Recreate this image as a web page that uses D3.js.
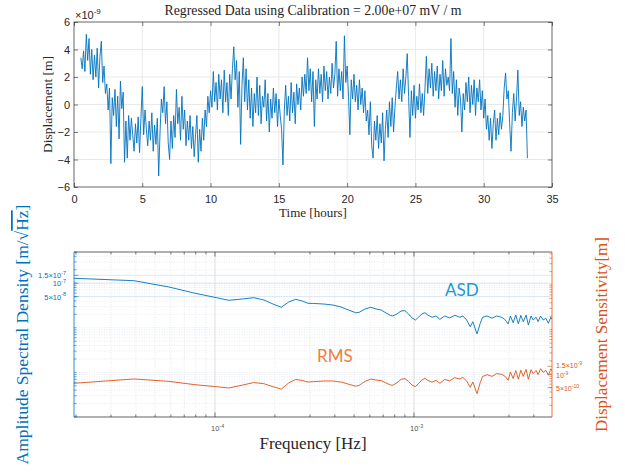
<!DOCTYPE html>
<html>
<head>
<meta charset="utf-8">
<script src="https://cdn.jsdelivr.net/npm/d3@7"></script>
<style>
  body { margin: 0; background: #fff; }
  svg { display: block; }
  .tick text { font-family: "Liberation Sans", Arial, sans-serif; }
  .lbl { font-family: "Liberation Serif", "Times New Roman", serif; fill: #262626; }
</style>
</head>
<body>
<div id="vis"></div>
<script>
// regressed displacement, units of 1e-9 m, one sample every 0.1 h from 0.5 h
var dispStart = 0.5;
var dispStep = 0.1;
var dispValues = [
  3.4, 2.6, 3.9, 2.4, 5.1, 3.2, 4.8, 2.2, 4.0, 1.8,
  3.6, 2.0, 4.1, 1.2, 3.5, 4.6, 1.6, 2.8, 0.8, 1.5,
  -0.4, 1.2, -4.3, 0.5, -0.8, 1.1, -1.6, 0.6, -2.5, 1.7,
  -0.3, 0.9, -4.2, -1.2, -3.9, -0.8, -2.6, -1.0, -2.2, -3.4,
  -1.4, -2.8, -0.9, -3.5, -1.0, 1.3, -2.2, -0.4, -1.8, -3.0,
  -1.2, -2.6, -0.6, -3.4, -1.5, -2.9, -1.0, -5.2, -2.0, 0.4,
  -0.6, 1.3, -1.4, 0.2, -2.8, -4.0, -1.2, -3.2, -0.8, -2.4,
  1.1, -1.4, -0.2, -2.6, 0.6, -1.8, -0.4, -3.0, -1.2, -2.6,
  -0.8, -3.2, -1.6, -3.8, -2.2, -0.8, -4.2, -1.8, -3.4, -1.0,
  -2.6, -0.4, -1.6, 0.6, -0.6, 1.0, -0.2, 2.4, 0.2, 1.6,
  -0.4, 2.2, 0.4, 1.8, -0.6, 2.5, 0.2, 1.6, -0.8, 2.2,
  0.4, 2.6, 4.2, 1.8, 3.2, -0.2, 2.4, -2.9, 1.4, 3.4,
  0.2, 2.6, -0.4, 1.8, -1.0, 1.2, -1.6, 0.8, -0.6, 2.0,
  -0.8, 1.4, -1.4, 0.6, -0.2, 1.8, -1.2, 0.8, -2.0, 0.4,
  -1.0, 1.2, -0.6, 0.8, -1.6, 0.4, -0.8, -1.8, -4.4, -0.4,
  1.4, -0.8, 0.6, -1.2, 1.6, -0.6, 0.9, -1.4, 1.5, 0.0,
  1.2, -0.4, 2.0, 0.6, 2.2, 0.8, 3.4, 1.0, 2.6, 0.2,
  2.4, -1.6, 1.8, 0.4, 2.6, 0.8, 2.2, 0.2, 2.8, 1.0,
  2.4, 0.4, 2.0, 0.8, 3.0, 1.2, 2.2, 4.6, 0.6, 2.6,
  1.0, 2.4, 0.4, 5.0, 1.6, 2.8, 0.6, -2.2, 1.8, 0.4,
  2.2, 0.2, 1.4, -0.4, 1.8, 0.0, 1.2, -0.6, 1.0, -1.2,
  -0.4, -2.2, 0.2, -3.0, -3.9, -1.2, -2.6, -0.8, -3.2, -1.4,
  -2.8, -0.6, -4.1, -1.8, -0.4, -2.4, 0.2, -1.6, 0.5, -2.0,
  -0.2, 1.2, 2.4, 0.4, 1.8, 0.2, 2.6, 0.8, 2.0, 3.7,
  0.6, -2.4, 1.0, -0.8, 1.4, -1.0, 0.6, -0.4, 1.5, -0.6,
  0.8, -0.8, 1.2, 3.5, 0.8, 2.6, 1.2, 3.0, 0.6, 2.4,
  1.0, 2.8, 0.4, 2.2, 1.0, 3.2, 0.6, 2.6, 1.4, 2.0,
  1.0, 4.8, 0.8, 2.4, -0.2, 1.8, -0.8, 1.2, 0.4, -2.0,
  0.8, -0.4, 1.6, 0.2, 2.0, -0.6, 1.4, 0.0, 1.8, -0.8,
  1.2, 0.2, 1.8, -0.4, 1.0, -1.0, 0.4, -1.8, -0.8, -2.6,
  -1.0, -3.2, -1.4, -0.4, -2.6, -1.0, -2.2, -0.6, -1.8, -0.8,
  1.2, 2.3, 0.4, 1.0, -1.4, -3.4, -0.6, 0.8, -1.2, 0.4,
  2.5, -0.8, 0.2, -1.6, -0.2, -1.2, -0.4, -3.9
];
var timeTicks = [0, 5, 10, 15, 20, 25, 30, 35];
var dispTicks = [-6, -4, -2, 0, 2, 4, 6];

// spectrum: frequency bin index (bin width freqRes), ASD in nm/sqrt(Hz), RMS in nm
var freqRes = 1.956e-5;
var binIdx = [1, 2, 3, 4, 5, 6, 7, 8, 9, 10, 11, 12, 13, 14, 15, 16, 18, 20, 22, 24,
  26, 27, 29, 31, 33, 35, 37, 39, 40, 42, 44, 46, 48, 50, 52, 54, 56, 58, 60, 63,
  66, 69, 73, 77, 82, 87, 90, 94, 98, 101, 106, 110, 113, 119, 126, 133, 141, 146, 152, 156,
  161, 166, 171, 176, 181, 187, 192, 198, 203, 210, 215, 221, 228, 235, 242, 249, 252];
var asdValues = [128.7, 113.7, 82.1, 60.3, 49.0, 41.3, 44.2, 47.3, 42.0, 34.1, 28.8, 37.9, 43.5, 39.9, 35.4, 35.1, 34.1, 32.4, 29.2, 25.0,
  21.8, 22.0, 26.4, 28.8, 26.4, 25.0, 21.5, 18.8, 18.4, 20.4, 23.8, 24.2, 20.4, 16.6, 14.95, 17.5, 20.4, 21.8, 19.3, 17.2,
  18.4, 15.5, 18.4, 16.6, 19.0, 17.2, 18.4, 14.95, 10.6, 13.7, 7.3, 12.6, 17.2, 18.4, 16.4, 18.4, 17.2, 15.5, 12.2, 18.4,
  13.0, 19.3, 12.2, 19.0, 13.7, 19.3, 11.5, 18.4, 14.95, 17.2, 13.7, 18.4, 14.95, 16.4, 12.6, 17.2, 15.5];
var rmsValues = [0.627, 0.783, 0.693, 0.587, 0.534, 0.493, 0.569, 0.651, 0.614, 0.525, 0.465, 0.639, 0.764, 0.727, 0.668, 0.684, 0.705, 0.706, 0.667, 0.597,
  0.541, 0.557, 0.692, 0.781, 0.739, 0.720, 0.637, 0.572, 0.567, 0.644, 0.769, 0.799, 0.688, 0.572, 0.525, 0.626, 0.743, 0.809, 0.728, 0.665,
  0.728, 0.627, 0.766, 0.709, 0.838, 0.781, 0.850, 0.706, 0.511, 0.670, 0.366, 0.644, 0.890, 0.978, 0.897, 1.033, 0.995, 0.912, 0.733, 1.119,
  0.803, 1.211, 0.777, 1.228, 0.898, 1.285, 0.776, 1.261, 1.037, 1.214, 0.978, 1.332, 1.099, 1.224, 0.955, 1.322, 1.198];
var freqTicks = [1e-4, 1e-3];
var freqTickLabels = [['10', '-4'], ['10', '-3']];
var asdTicks = [5e-8, 1e-7, 1.5e-7];
var asdTickLabels = [['5\u00d710', '-8'], ['10', '-7'], ['1.5\u00d710', '-7']];
var rmsTicks = [5e-10, 1e-9, 1.5e-9];
var rmsTickLabels = [['5\u00d710', '-10'], ['10', '-9'], ['1.5\u00d710', '-9']];

var width = 625;
var height = 474;
var axisColor = '#262626';
var blue = '#0072BD';
var orange = '#D95319';

var svg = d3.select('#vis').append('svg')
  .attr('width', width)
  .attr('height', height);

////////////////////////////
// top panel: time series
////////////////////////////
var top1 = { left: 74, right: 552, top: 22, bottom: 187 };
var xTime = d3.scaleLinear().domain([0, 35]).range([top1.left, top1.right]);
var yDisp = d3.scaleLinear().domain([-6, 6]).range([top1.bottom, top1.top]);

var g1 = svg.append('g');

// grid
g1.selectAll('.vgrid').data(timeTicks.slice(1, -1)).enter().append('line')
  .attr('x1', function (d) { return xTime(d); }).attr('x2', function (d) { return xTime(d); })
  .attr('y1', top1.top).attr('y2', top1.bottom)
  .attr('stroke', '#e3e3e3').attr('stroke-width', 0.8);
g1.selectAll('.hgrid').data(dispTicks.slice(1, -1)).enter().append('line')
  .attr('x1', top1.left).attr('x2', top1.right)
  .attr('y1', function (d) { return yDisp(d); }).attr('y2', function (d) { return yDisp(d); })
  .attr('stroke', '#e3e3e3').attr('stroke-width', 0.8);

svg.append('clipPath').attr('id', 'clip1').append('rect')
  .attr('x', top1.left).attr('y', top1.top)
  .attr('width', top1.right - top1.left).attr('height', top1.bottom - top1.top);

var dispLine = d3.line()
  .x(function (d, i) { return xTime(dispStart + i * dispStep); })
  .y(function (d) { return yDisp(d); });

g1.append('path')
  .datum(dispValues)
  .attr('clip-path', 'url(#clip1)')
  .attr('fill', 'none')
  .attr('stroke', blue)
  .attr('stroke-width', 0.9)
  .attr('stroke-linejoin', 'round')
  .attr('d', dispLine);

// axes, ticks inside
function styleAxis(g, color, fontSize) {
  g.select('.domain').remove();
  g.selectAll('.tick line').attr('stroke', color).attr('stroke-width', 0.6);
  g.selectAll('.tick text').attr('fill', color).style('font-size', fontSize + 'px');
}

g1.append('g').attr('transform', 'translate(0,' + top1.bottom + ')')
  .call(d3.axisBottom(xTime).tickValues(timeTicks).tickSize(-4).tickPadding(8))
  .call(styleAxis, axisColor, 11);
g1.append('g').attr('transform', 'translate(0,' + top1.top + ')')
  .call(d3.axisTop(xTime).tickValues(timeTicks).tickSize(-4).tickFormat(''))
  .call(styleAxis, axisColor, 11);
g1.append('g').attr('transform', 'translate(' + top1.left + ',0)')
  .call(d3.axisLeft(yDisp).tickValues(dispTicks).tickSize(-4).tickPadding(4))
  .call(styleAxis, axisColor, 11);
g1.append('g').attr('transform', 'translate(' + top1.right + ',0)')
  .call(d3.axisRight(yDisp).tickValues(dispTicks).tickSize(-4).tickFormat(''))
  .call(styleAxis, axisColor, 11);

g1.append('rect')
  .attr('x', top1.left).attr('y', top1.top)
  .attr('width', top1.right - top1.left).attr('height', top1.bottom - top1.top)
  .attr('fill', 'none').attr('stroke', axisColor).attr('stroke-width', 0.7);

// exponent
var expo = g1.append('text')
  .attr('x', top1.left + 1).attr('y', 19)
  .attr('fill', axisColor)
  .style('font-family', '"Liberation Sans", Arial, sans-serif')
  .style('font-size', '11px');
expo.append('tspan').text('\u00d710');
expo.append('tspan').attr('dy', -5).style('font-size', '8px').text('-9');

g1.append('text').attr('class', 'lbl')
  .attr('x', (top1.left + top1.right) / 2).attr('y', 15)
  .attr('text-anchor', 'middle')
  .style('font-size', '13.8px')
  .text('Regressed Data using Calibration = 2.00e+07 mV / m');

g1.append('text').attr('class', 'lbl')
  .attr('x', (top1.left + top1.right) / 2).attr('y', 217)
  .attr('text-anchor', 'middle')
  .style('font-size', '13px')
  .text('Time [hours]');

g1.append('text').attr('class', 'lbl')
  .attr('transform', 'translate(52,' + ((top1.top + top1.bottom) / 2) + ') rotate(-90)')
  .attr('text-anchor', 'middle')
  .style('font-size', '13.5px')
  .text('Displacement [m]');

////////////////////////////
// bottom panel: ASD and RMS
////////////////////////////
var bot = { left: 74, right: 552, top: 252, bottom: 417 };
var xFreq = d3.scaleLog().domain([1.956e-5, 4.937e-3]).range([bot.left, bot.right]);
var yAsd = d3.scaleLog().domain([1e-10, 5e-7]).range([bot.bottom, bot.top]);
var yRms = d3.scaleLog().domain([1.1e-10, 5.5e-7]).range([bot.bottom, bot.top]);

var g2 = svg.append('g');

var xMinor = xFreq.ticks().filter(function (d) { return freqTicks.indexOf(d) < 0; });
var yMinor = yAsd.ticks();

// minor grid, dotted
g2.selectAll('.xminor').data(xMinor).enter().append('line')
  .attr('x1', function (d) { return xFreq(d); }).attr('x2', function (d) { return xFreq(d); })
  .attr('y1', bot.top).attr('y2', bot.bottom)
  .attr('stroke', '#d6d6d6').attr('stroke-width', 0.6).attr('stroke-dasharray', '1,1.5');
g2.selectAll('.yminor').data(yMinor).enter().append('line')
  .attr('x1', bot.left).attr('x2', bot.right)
  .attr('y1', function (d) { return yAsd(d); }).attr('y2', function (d) { return yAsd(d); })
  .attr('stroke', '#d6dfe8').attr('stroke-width', 0.6).attr('stroke-dasharray', '1,1.5');
// major grid
g2.selectAll('.xmajor').data(freqTicks).enter().append('line')
  .attr('x1', function (d) { return xFreq(d); }).attr('x2', function (d) { return xFreq(d); })
  .attr('y1', bot.top).attr('y2', bot.bottom)
  .attr('stroke', '#d0d0d0').attr('stroke-width', 0.7);
g2.selectAll('.ymajor').data(asdTicks).enter().append('line')
  .attr('x1', bot.left).attr('x2', bot.right)
  .attr('y1', function (d) { return yAsd(d); }).attr('y2', function (d) { return yAsd(d); })
  .attr('stroke', '#cfe0ef').attr('stroke-width', 0.7);

svg.append('clipPath').attr('id', 'clip2').append('rect')
  .attr('x', bot.left).attr('y', bot.top)
  .attr('width', bot.right - bot.left).attr('height', bot.bottom - bot.top);

var asdLine = d3.line()
  .x(function (d, i) { return xFreq(binIdx[i] * freqRes); })
  .y(function (d) { return yAsd(d * 1e-9); });
var rmsLine = d3.line()
  .x(function (d, i) { return xFreq(binIdx[i] * freqRes); })
  .y(function (d) { return yRms(d * 1e-9); });

g2.append('path').datum(asdValues)
  .attr('clip-path', 'url(#clip2)')
  .attr('fill', 'none').attr('stroke', blue).attr('stroke-width', 0.9)
  .attr('d', asdLine);
g2.append('path').datum(rmsValues)
  .attr('clip-path', 'url(#clip2)')
  .attr('fill', 'none').attr('stroke', orange).attr('stroke-width', 0.9)
  .attr('d', rmsLine);

// ticks (major + minor) on all four edges
function addTicks(g, values, scale, len, vertical, pos, color) {
  g.selectAll(null).data(values).enter().append('line')
    .attr('x1', function (d) { return vertical ? scale(d) : pos; })
    .attr('x2', function (d) { return vertical ? scale(d) : pos + len; })
    .attr('y1', function (d) { return vertical ? pos : scale(d); })
    .attr('y2', function (d) { return vertical ? pos + len : scale(d); })
    .attr('stroke', color).attr('stroke-width', 0.6);
}
addTicks(g2, xMinor, xFreq, -2.5, true, bot.bottom, axisColor);
addTicks(g2, freqTicks, xFreq, -4.5, true, bot.bottom, axisColor);
addTicks(g2, xMinor, xFreq, 2.5, true, bot.top, axisColor);
addTicks(g2, freqTicks, xFreq, 4.5, true, bot.top, axisColor);
addTicks(g2, yAsd.ticks(), yAsd, 2.5, false, bot.left, blue);
addTicks(g2, asdTicks, yAsd, 4.5, false, bot.left, blue);
addTicks(g2, yRms.ticks(), yRms, -2.5, false, bot.right, orange);
addTicks(g2, rmsTicks, yRms, -4.5, false, bot.right, orange);

// box edges
g2.append('line').attr('x1', bot.left).attr('x2', bot.right).attr('y1', bot.top).attr('y2', bot.top)
  .attr('stroke', axisColor).attr('stroke-width', 0.7);
g2.append('line').attr('x1', bot.left).attr('x2', bot.right).attr('y1', bot.bottom).attr('y2', bot.bottom)
  .attr('stroke', axisColor).attr('stroke-width', 0.7);
g2.append('line').attr('x1', bot.left).attr('x2', bot.left).attr('y1', bot.top).attr('y2', bot.bottom)
  .attr('stroke', blue).attr('stroke-width', 0.8);
g2.append('line').attr('x1', bot.right).attr('x2', bot.right).attr('y1', bot.top).attr('y2', bot.bottom)
  .attr('stroke', orange).attr('stroke-width', 0.8);

// tick labels with superscript exponents
function powLabel(g, x, y, parts, anchor, color, size) {
  var t = g.append('text')
    .attr('x', x).attr('y', y)
    .attr('text-anchor', anchor)
    .attr('fill', color)
    .style('font-family', '"Liberation Sans", Arial, sans-serif')
    .style('font-size', size + 'px');
  t.append('tspan').text(parts[0]);
  t.append('tspan').attr('dy', -size * 0.45).style('font-size', (size * 0.72) + 'px').text(parts[1]);
  return t;
}
freqTicks.forEach(function (d, i) {
  powLabel(g2, xFreq(d) - 4, 431, freqTickLabels[i], 'start', '#555', 7.5);
});
asdTicks.forEach(function (d, i) {
  powLabel(g2, bot.left - 8, yAsd(d) + 3, asdTickLabels[i], 'end', blue, 7.5);
});
// the two upper rms labels sit almost on top of each other, nudge them apart a little
var rmsNudge = [0, 0.5, -1.5];
rmsTicks.forEach(function (d, i) {
  powLabel(g2, bot.right + 4, yRms(d) + 3 + rmsNudge[i], rmsTickLabels[i], 'start', orange, 7);
});

// axis labels
g2.append('text').attr('class', 'lbl')
  .attr('x', (bot.left + bot.right) / 2).attr('y', 449)
  .attr('text-anchor', 'middle')
  .style('font-size', '17px')
  .text('Frequency [Hz]');

var yl = g2.append('text').attr('class', 'lbl')
  .attr('transform', 'translate(28,' + ((bot.top + bot.bottom) / 2) + ') rotate(-90)')
  .attr('text-anchor', 'middle')
  .style('font-size', '17.5px')
  .style('fill', blue);
yl.append('tspan').text('Amplitude Spectral Density [m/\u221a');
yl.append('tspan').style('text-decoration', 'overline').text('Hz');
yl.append('tspan').text(']');

g2.append('text').attr('class', 'lbl')
  .attr('transform', 'translate(607,' + ((bot.top + bot.bottom) / 2) + ') rotate(-90)')
  .attr('text-anchor', 'middle')
  .style('font-size', '17px')
  .style('fill', orange)
  .text('Displacement Sensitivity[m]');

// in-plot annotations
g2.append('text')
  .attr('x', 445).attr('y', 296)
  .attr('fill', '#1a9ad6')
  .style('font-family', 'Lato, "Open Sans", sans-serif')
  .style('font-size', '17px')
  .text('ASD');
g2.append('text')
  .attr('x', 317).attr('y', 362)
  .attr('fill', '#ee7d3b')
  .style('font-family', 'Lato, "Open Sans", sans-serif')
  .style('font-size', '17px')
  .text('RMS');
</script>
</body>
</html>
